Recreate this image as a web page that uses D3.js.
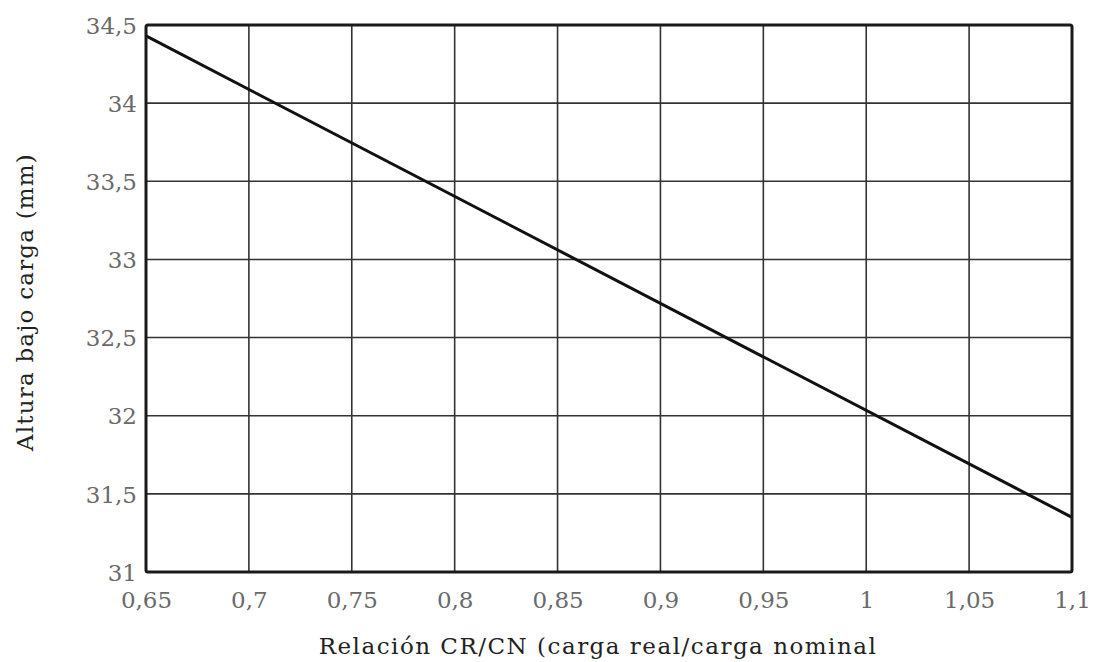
<!DOCTYPE html>
<html><head><meta charset="utf-8">
<script src="https://cdn.jsdelivr.net/npm/d3@7"></script>
<style>body{margin:0;background:#fff}</style>
</head><body><svg id="c" width="1095" height="662"></svg>
<script>
const xTicks = [0.65,0.7,0.75,0.8,0.85,0.9,0.95,1,1.05,1.1];
const yTicks = [31,31.5,32,32.5,33,33.5,34,34.5];
const ratio = [0.65, 1.1];
const height = [34.43, 31.35];
const xTitle = "Relación CR/CN (carga real/carga nominal";
const yTitle = "Altura bajo carga (mm)";

const svg = d3.select("#c");
const m = {l:146, r:1072, t:25, b:572};
const x = d3.scaleLinear().domain([0.65,1.1]).range([m.l,m.r]);
const y = d3.scaleLinear().domain([31,34.5]).range([m.b,m.t]);
const fmt = d => String(d).replace(".", ",");

// grid
svg.append("g").selectAll("line").data(xTicks.slice(1,-1)).join("line")
  .attr("x1",d=>x(d)).attr("x2",d=>x(d)).attr("y1",m.t).attr("y2",m.b)
  .attr("stroke","#333").attr("stroke-width",1.6);
svg.append("g").selectAll("line").data(yTicks.slice(1,-1)).join("line")
  .attr("y1",d=>y(d)).attr("y2",d=>y(d)).attr("x1",m.l).attr("x2",m.r)
  .attr("stroke","#333").attr("stroke-width",1.6);

// data line
svg.append("path").datum(ratio.map((r,i)=>[r,height[i]]))
  .attr("d", d3.line().x(d=>x(d[0])).y(d=>y(d[1])))
  .attr("fill","none").attr("stroke","#111").attr("stroke-width",3);

// border
svg.append("rect").attr("x",m.l).attr("y",m.t).attr("width",m.r-m.l).attr("height",m.b-m.t)
  .attr("rx",2).attr("fill","none").attr("stroke","#1a1a1a").attr("stroke-width",3);

// axes via d3 axis
const xa = d3.axisBottom(x).tickValues(xTicks).tickFormat(fmt).tickSize(0).tickPadding(20);
const gx = svg.append("g").attr("transform",`translate(0,${m.b})`).call(xa);
const ya = d3.axisLeft(y).tickValues(yTicks).tickFormat(fmt).tickSize(0).tickPadding(9);
const gy = svg.append("g").attr("transform",`translate(${m.l},0)`).call(ya);
[gx,gy].forEach(g=>{
  g.select(".domain").remove();
  g.selectAll("text").attr("font-family","DejaVu Serif, serif").attr("font-size",23)
   .attr("fill","#6a6a6a");
});
gy.selectAll("text").attr("dy","0.36em");

svg.append("text").attr("x",598).attr("y",654).attr("text-anchor","middle")
  .attr("font-family","DejaVu Serif, serif").attr("font-size",23).attr("letter-spacing",1.5)
  .attr("fill","#222").text(xTitle);
svg.append("text").attr("transform","translate(33,302) rotate(-90)").attr("text-anchor","middle")
  .attr("font-family","DejaVu Serif, serif").attr("font-size",23).attr("letter-spacing",1.2)
  .attr("fill","#222").text(yTitle);
</script></body></html>
